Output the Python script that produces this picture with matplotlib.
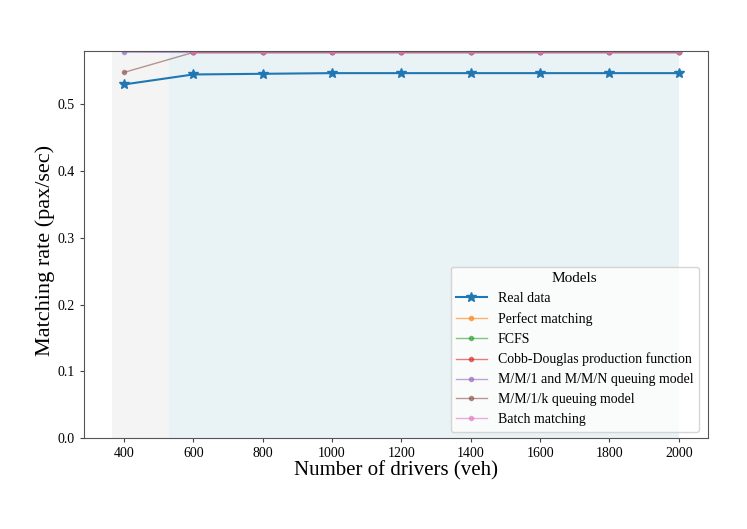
import matplotlib.pyplot as plt

plt.rcParams['font.family'] = ['Liberation Serif', 'DejaVu Serif']

drivers = [400, 600, 800, 1000, 1200, 1400, 1600, 1800, 2000]

real_data = [0.530, 0.545, 0.546, 0.547, 0.547, 0.547, 0.547, 0.547, 0.547]
perfect = [0.65, 0.578, 0.578, 0.578, 0.578, 0.578, 0.578, 0.578, 0.578]
fcfs = [0.65, 0.578, 0.578, 0.578, 0.578, 0.578, 0.578, 0.578, 0.578]
cobb_douglas = [0.65, 0.578, 0.578, 0.578, 0.578, 0.578, 0.578, 0.578, 0.578]
mm1_mmn = [0.5785, 0.578, 0.578, 0.578, 0.578, 0.578, 0.578, 0.578, 0.578]
mm1k = [0.548, 0.578, 0.578, 0.578, 0.578, 0.578, 0.578, 0.578, 0.578]
batch = [0.65, 0.578, 0.578, 0.578, 0.578, 0.578, 0.578, 0.578, 0.578]

model_names = ['Perfect matching', 'FCFS', 'Cobb-Douglas production function',
               'M/M/1 and M/M/N queuing model', 'M/M/1/k queuing model', 'Batch matching']
model_series = [perfect, fcfs, cobb_douglas, mm1_mmn, mm1k, batch]
model_colors = ['#ff7f0e', '#2ca02c', '#d62728', '#9467bd', '#8c564b', '#e377c2']

fig = plt.figure(figsize=(7.47, 5.29), dpi=100)
ax = fig.add_axes([0.1124, 0.172, 0.8353, 0.732])

# shaded regimes
ax.axvspan(365, 530, color='#f4f4f4', lw=0, zorder=0)
ax.axvspan(530, 2000, color='#e9f2f5', lw=0, zorder=0)

ax.plot(drivers, real_data, marker='*', color='#1f77b4', lw=1.5, markersize=7, label='Real data')
for name, vals, c in zip(model_names, model_series, model_colors):
    ax.plot(drivers, vals, marker='o', color=c, lw=1.0, markersize=3, alpha=0.6, label=name)

ax.set_xlim(285, 2084)
ax.set_ylim(0, 0.5805)
ax.set_xticks(range(400, 2001, 200))
ax.set_yticks([0.0, 0.1, 0.2, 0.3, 0.4, 0.5])
ax.tick_params(labelsize=10, colors='#444444', labelcolor='black', length=3)
for s in ax.spines.values():
    s.set_color('#555555')

ax.set_xlabel('Number of drivers (veh)', fontsize=15, labelpad=1)
ax.set_ylabel('Matching rate (pax/sec)', fontsize=16)
ax.yaxis.set_label_coords(-0.047, 0.485)

leg = ax.legend(title='Models', loc='lower right', fontsize=10, title_fontsize=11,
                handlelength=2.2, handletextpad=0.8, borderaxespad=0,
                bbox_to_anchor=(0.9856, 0.016))

fig.savefig('out.png', dpi=100)
